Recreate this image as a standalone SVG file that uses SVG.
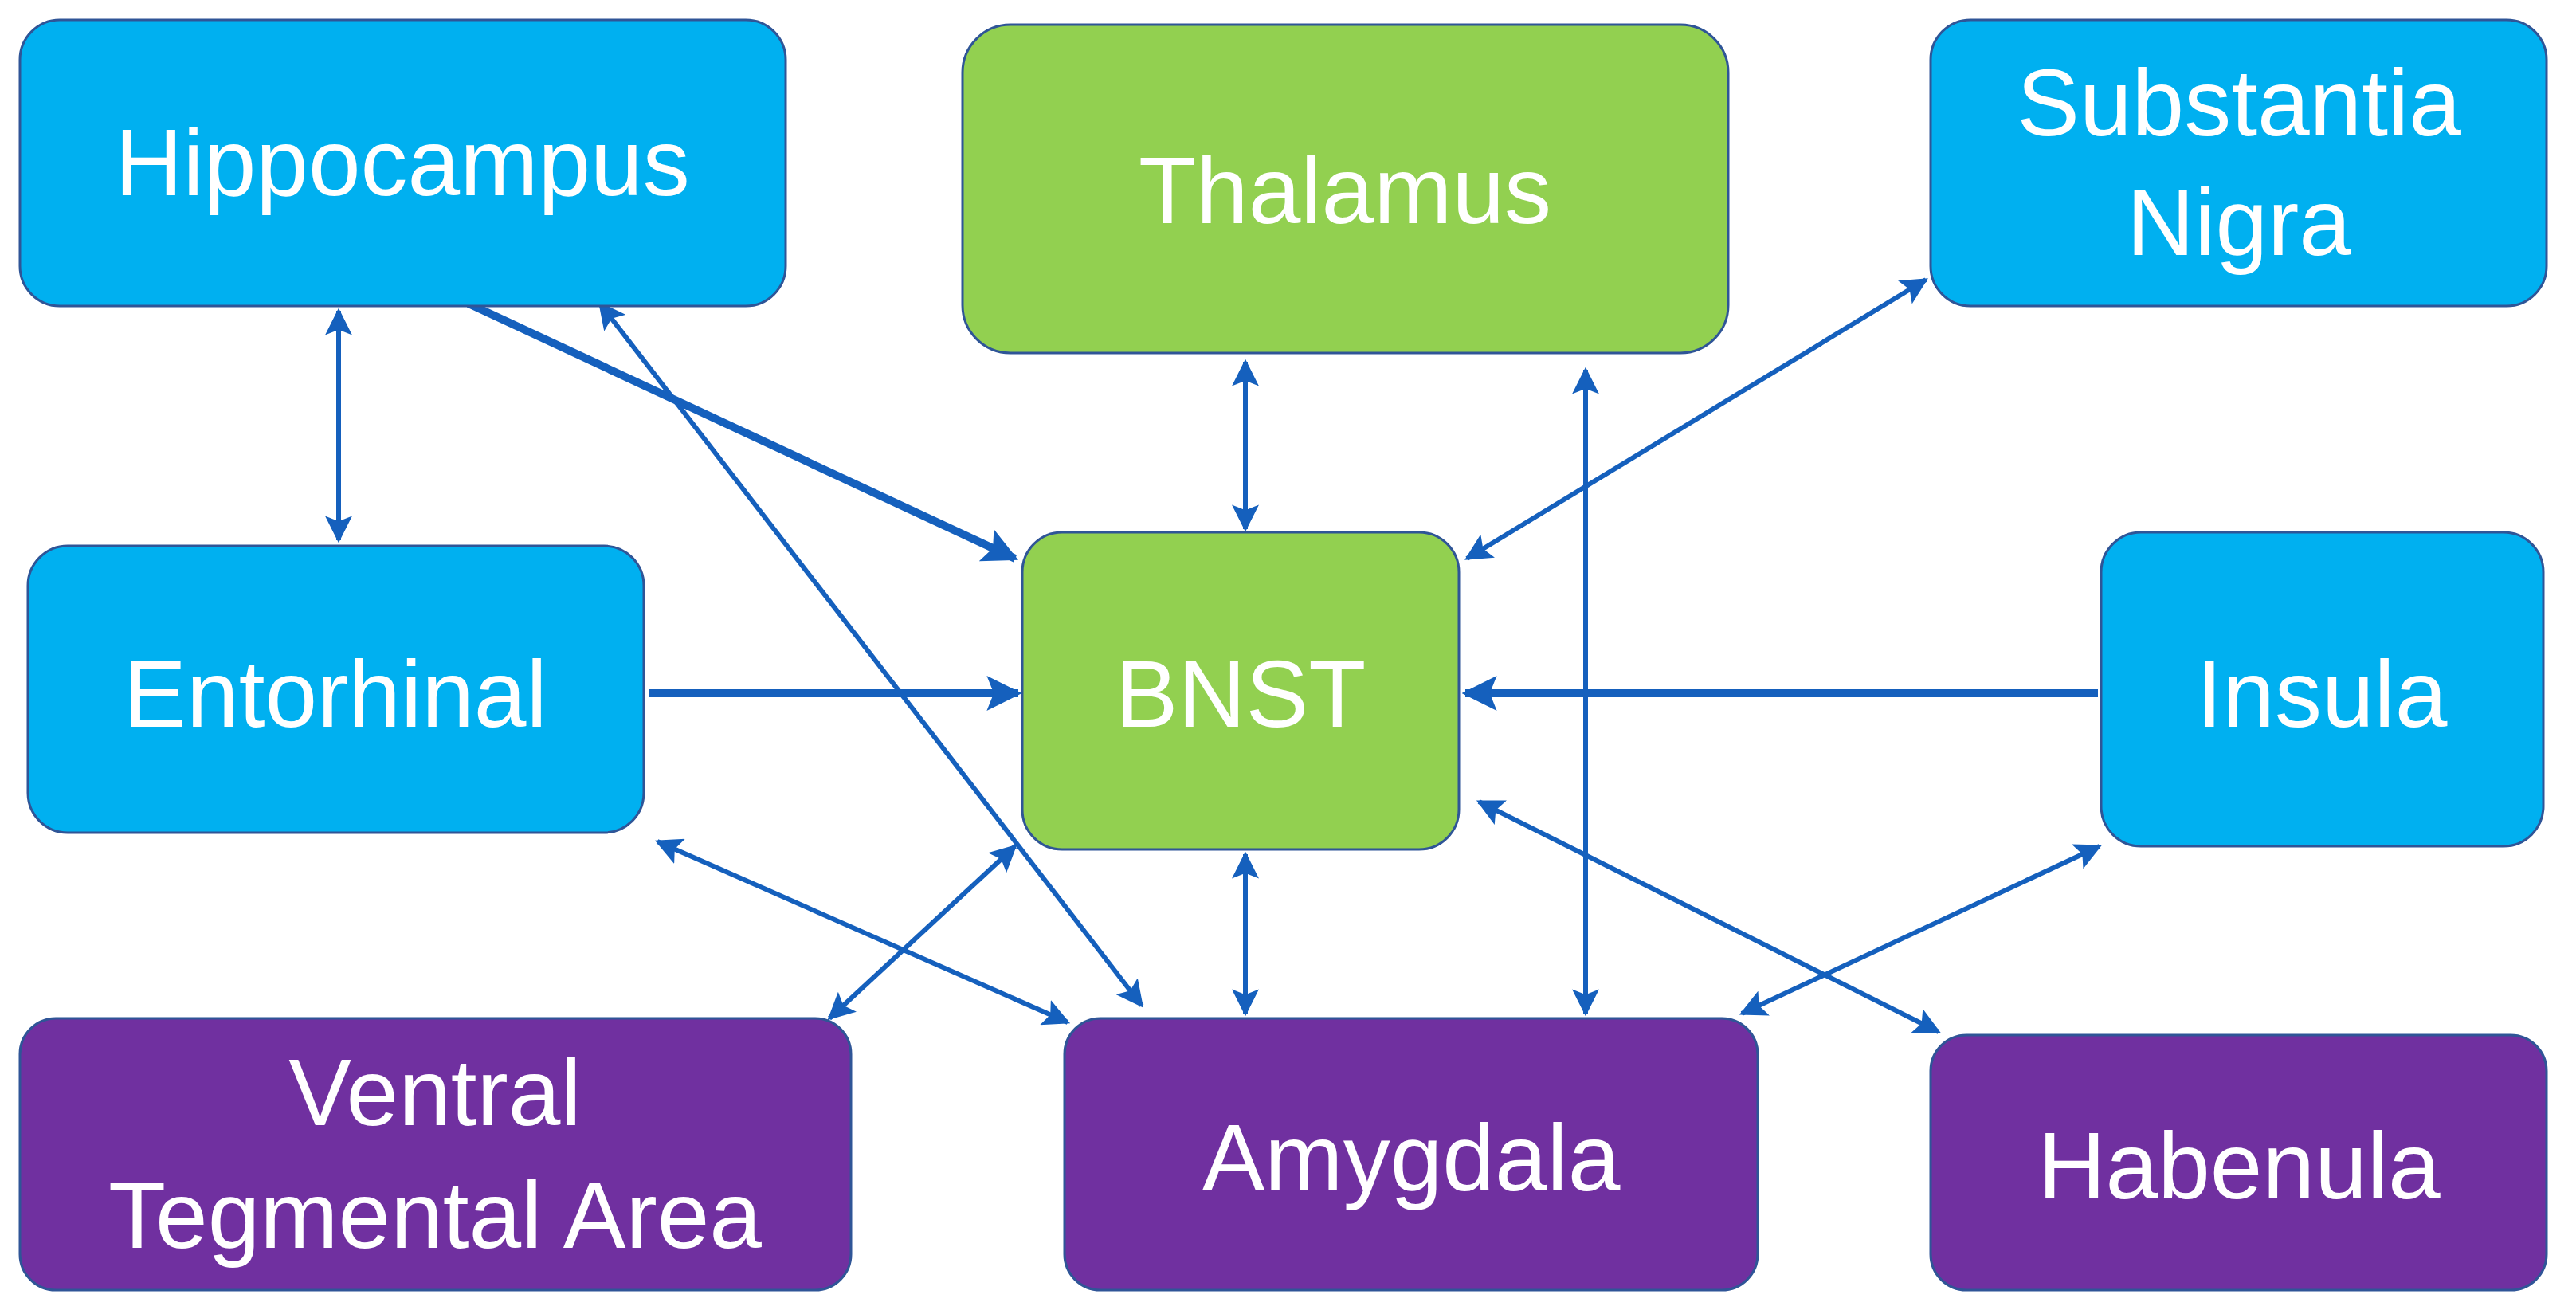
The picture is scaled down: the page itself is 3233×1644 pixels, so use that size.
<svg xmlns="http://www.w3.org/2000/svg" width="3233" height="1644" viewBox="0 0 3233 1644">
<defs>
<marker id="ah" viewBox="0 0 10 10" refX="9" refY="5" markerWidth="34" markerHeight="34" markerUnits="userSpaceOnUse" orient="auto-start-reverse"><path d="M0,0 L10,5 L0,10 L2,5 z" fill="#1560BD"/></marker>
<marker id="ahb" viewBox="0 0 10 10" refX="9" refY="5" markerWidth="44" markerHeight="44" markerUnits="userSpaceOnUse" orient="auto-start-reverse"><path d="M0,0 L10,5 L0,10 L2,5 z" fill="#1560BD"/></marker>
</defs>
<style>
.n{stroke:#2F5597;stroke-width:3}
.b{fill:#00B0F0}.g{fill:#92D050}.p{fill:#7030A0}
text{font-family:"Liberation Sans",Arial,sans-serif;font-size:118px;fill:#fff;text-anchor:middle}
.c line{stroke:#1560BD;stroke-width:6;marker-end:url(#ah)}
.c line.d{marker-start:url(#ah)}
.c line.t{stroke-width:10;marker-end:url(#ahb)}
</style>
<rect width="3233" height="1644" fill="#fff"/>
<g class="c" id="connectors">
<line class="d" x1="425" y1="390" x2="425" y2="678"/>
<line class="t" x1="588" y1="381" x2="1274" y2="701"/>
<line class="d" x1="1433" y1="1262" x2="753" y2="381"/>
<line class="d" x1="1563" y1="454" x2="1563" y2="664"/>
<line class="d" x1="1990" y1="464" x2="1990" y2="1272"/>
<line class="d" x1="2417" y1="351" x2="1841" y2="701"/>
<line class="t" x1="815" y1="870" x2="1278" y2="870"/>
<line class="t" x1="2633" y1="870" x2="1839" y2="870"/>
<line class="d" x1="825" y1="1056" x2="1340" y2="1283"/>
<line class="d" x1="1041" y1="1278" x2="1274" y2="1062"/>
<line class="d" x1="1563" y1="1072" x2="1563" y2="1272"/>
<line class="d" x1="1856" y1="1006" x2="2433" y2="1295"/>
<line class="d" x1="2635" y1="1062" x2="2186" y2="1272"/>
</g>
<g id="hippocampus"><rect class="n b" x="25" y="25" width="961" height="359" rx="50"/><text x="505" y="245">Hippocampus</text></g>
<g id="thalamus"><rect class="n g" x="1208" y="31" width="961" height="412" rx="60"/><text x="1688" y="280">Thalamus</text></g>
<g id="substantia-nigra"><rect class="n b" x="2423" y="25" width="773" height="359" rx="50"/><text x="2810" y="170">Substantia</text><text x="2810" y="320">Nigra</text></g>
<g id="entorhinal"><rect class="n b" x="35" y="685" width="773" height="360" rx="50"/><text x="421" y="912">Entorhinal</text></g>
<g id="bnst"><rect class="n g" x="1283" y="668" width="548" height="398" rx="50"/><text x="1557" y="912">BNST</text></g>
<g id="insula"><rect class="n b" x="2637" y="668" width="555" height="394" rx="50"/><text x="2914" y="912">Insula</text></g>
<g id="vta"><rect class="n p" x="25" y="1278" width="1043" height="341" rx="45"/><text x="546" y="1412">Ventral</text><text x="546" y="1566">Tegmental Area</text></g>
<g id="amygdala"><rect class="n p" x="1336" y="1278" width="870" height="341" rx="45"/><text x="1771" y="1494">Amygdala</text></g>
<g id="habenula"><rect class="n p" x="2423" y="1299" width="773" height="320" rx="45"/><text x="2810" y="1504">Habenula</text></g>
</svg>
